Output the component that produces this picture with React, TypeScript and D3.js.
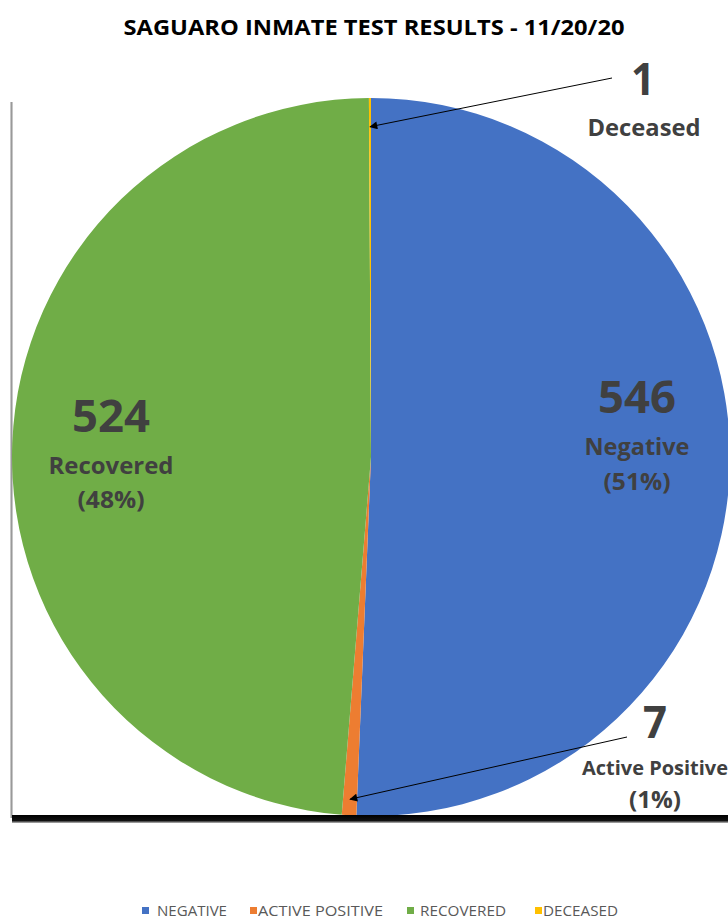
import React from "react";
import * as d3 from "d3";

const categories = ["NEGATIVE", "ACTIVE POSITIVE", "RECOVERED", "DECEASED"];
const labelNames = ["Negative", "Active Positive", "Recovered", "Deceased"];
const values = [546, 7, 524, 1];
const percents = ["(51%)", "(1%)", "(48%)", ""];
const colors = ["#4472C4", "#ED7D31", "#70AD47", "#FFC000"];
const title = "SAGUARO INMATE TEST RESULTS - 11/20/20";

const W = 728;
const H = 919;
const cx = 371;
const cy = 457;
const R = 359;

type Lbl = {
  x: number; // centre of the text block
  y: number; // baseline of the number
  numW: number;
  nameW: number;
  pctW: number;
  nameDy: number;
  pctDy: number;
  nameSize: number;
  arrowFrom?: [number, number];
  arrowFrac?: number;
  numX?: number;
};

const labelLayout: Lbl[] = [
  { x: 637, y: 413, numW: 78, nameW: 105, pctW: 67, nameDy: 42, pctDy: 77, nameSize: 24 },
  { x: 655, y: 738, numW: 24, nameW: 146, pctW: 52, nameDy: 37, pctDy: 70, nameSize: 20, arrowFrom: [627, 737], arrowFrac: 0.955, numX: 655 },
  { x: 111, y: 432, numW: 78, nameW: 125, pctW: 67, nameDy: 42, pctDy: 76, nameSize: 24 },
  { x: 644, y: 95, numW: 24, nameW: 113, pctW: 0, nameDy: 41, pctDy: 0, nameSize: 24, arrowFrom: [612, 78], arrowFrac: 0.92, numX: 643 },
];

const legendSq = [142, 250, 407, 535];
const legendTx = [157, 258, 420, 543];
const legendW = [70, 125, 86, 75];

export default function App() {
  const pie = d3.pie<number>().sort(null).value((d) => d);
  const arcs = pie(values);
  const arc = d3.arc<d3.PieArcDatum<number>>().innerRadius(0).outerRadius(R);
  const font = "Open Sans, Lato, sans-serif";

  const arrowTarget = (a: d3.PieArcDatum<number>, frac: number) => {
    const m = (a.startAngle + a.endAngle) / 2;
    return [cx + Math.sin(m) * R * frac, cy - Math.cos(m) * R * frac];
  };

  return (
    <svg
      width={W}
      height={H}
      style={{ position: "absolute", left: 0, top: 0, background: "#fff" }}
      fontFamily={font}
    >
      <defs>
        <marker id="ah" viewBox="0 0 10 10" refX="9" refY="5" markerWidth="10" markerHeight="8" orient="auto" markerUnits="userSpaceOnUse">
          <path d="M0,0 L10,5 L0,10 z" fill="#000" />
        </marker>
        <linearGradient id="shadowV" x1="0" x2="1">
          <stop offset="0" stopColor="#ddd" />
          <stop offset="0.5" stopColor="#999" />
          <stop offset="1" stopColor="#ddd" />
        </linearGradient>
        <linearGradient id="shadowH" x1="0" x2="0" y1="0" y2="1">
          <stop offset="0" stopColor="#000" />
          <stop offset="0.7" stopColor="#111" />
          <stop offset="1" stopColor="#bbb" />
        </linearGradient>
      </defs>
      <text x={374} y={35} textAnchor="middle" fontSize={22} fontWeight={700} fill="#000" textLength={501} lengthAdjust="spacingAndGlyphs">
        {title}
      </text>
      <rect x={10} y={102} width={3} height={716} fill="url(#shadowV)" />
      <g transform={`translate(${cx},${cy})`}>
        {arcs.map((a, i) => (
          <path key={i} d={arc(a) || ""} fill={colors[i]} />
        ))}
      </g>
      <rect x={12} y={815} width={716} height={8} fill="url(#shadowH)" />
      {arcs.map((a, i) => {
        const lp = labelLayout[i];
        const t = lp.arrowFrom ? arrowTarget(a, lp.arrowFrac!) : null;
        return (
          <g key={i} fill="#404040" fontWeight={700} textAnchor="middle">
            {t && (
              <line x1={lp.arrowFrom![0]} y1={lp.arrowFrom![1]} x2={t[0]} y2={t[1]} stroke="#000" strokeWidth={1} markerEnd="url(#ah)" />
            )}
            <text x={lp.numX ?? lp.x} y={lp.y} fontSize={44} textLength={lp.numW} lengthAdjust="spacingAndGlyphs">{values[i]}</text>
            <text x={lp.x} y={lp.y + lp.nameDy} fontSize={lp.nameSize} textLength={lp.nameW} lengthAdjust="spacingAndGlyphs">{labelNames[i]}</text>
            {percents[i] && (
              <text x={lp.x} y={lp.y + lp.pctDy} fontSize={24} textLength={lp.pctW} lengthAdjust="spacingAndGlyphs">{percents[i]}</text>
            )}
          </g>
        );
      })}
      {categories.map((c, i) => (
        <g key={c}>
          <rect x={legendSq[i]} y={907} width={7} height={7} fill={colors[i]} />
          <text x={legendTx[i]} y={916} fontSize={14} fill="#595959" textLength={legendW[i]} lengthAdjust="spacingAndGlyphs">
            {c}
          </text>
        </g>
      ))}
    </svg>
  );
}
